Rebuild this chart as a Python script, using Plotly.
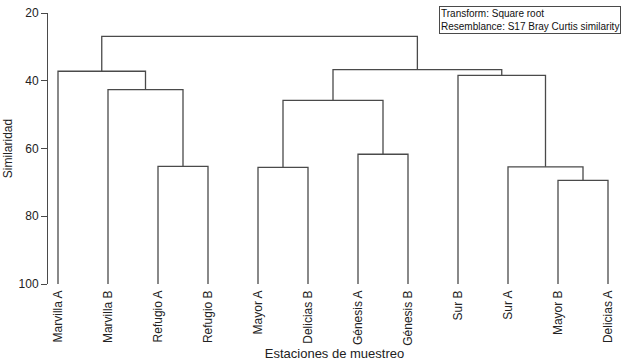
import plotly.graph_objects as go

# ---- data ----
leaves = ["Marvilla A", "Marvilla B", "Refugio A", "Refugio B", "Mayor A", "Delicias B",
          "Génesis A", "Génesis B", "Sur B", "Sur A", "Mayor B", "Delicias A"]

# merges: (child 1, child 2, similarity); children are leaf names or earlier merge ids ("m0", ...)
merge_left = ["Refugio A", "Mayor A", "Génesis A", "Mayor B", "Sur A", "Marvilla B",
              "Marvilla A", "m1", "Sur B", "m7", "m6"]
merge_right = ["Refugio B", "Delicias B", "Génesis B", "Delicias A", "m3", "m0",
               "m5", "m2", "m4", "m8", "m9"]
merge_sim = [65.3, 65.6, 61.7, 69.4, 65.4, 42.6, 37.2, 45.8, 38.4, 36.7, 26.9]

y_ticks = [20, 40, 60, 80, 100]
info_lines = ["Transform: Square root", "Resemblance: S17 Bray Curtis similarity"]

# ---- compute dendrogram segments ----
pos = {name: i for i, name in enumerate(leaves)}
height = {name: 100.0 for name in leaves}
xs, ys = [], []
for k, (a, b, s) in enumerate(zip(merge_left, merge_right, merge_sim)):
    xa, xb = pos[a], pos[b]
    xs += [xa, xa, xb, xb, None]
    ys += [height[a], s, s, height[b], None]
    mid = f"m{k}"
    pos[mid] = (xa + xb) / 2
    height[mid] = s

fig = go.Figure()
fig.add_trace(go.Scatter(x=xs, y=ys, mode="lines",
                         line=dict(color="#4a4a4a", width=1.3),
                         hoverinfo="skip", showlegend=False))

font_family = "Liberation Sans, Arial, sans-serif"
fig.update_layout(
    width=643, height=363,
    margin=dict(l=48, r=22, t=13, b=79, autoexpand=False),
    paper_bgcolor="white", plot_bgcolor="white",
    font=dict(family=font_family, size=12, color="#222"),
    xaxis=dict(range=[-0.2, 11.26], tickmode="array", automargin=False,
               tickvals=list(range(len(leaves))), ticktext=leaves,
               tickangle=-90, showgrid=False, zeroline=False, showline=False,
               ticks="", ticklabelstandoff=3,
               tickfont=dict(size=12, color="#222"),
               title=dict(text="Estaciones de muestreo", font=dict(size=13, color="#222"),
                          standoff=4)),
    yaxis=dict(range=[100, 20], tickmode="array", tickvals=y_ticks, automargin=False,
               showgrid=False, zeroline=False, showline=True, linecolor="#4a4a4a",
               linewidth=1, ticks="outside", ticklen=6, tickcolor="#4a4a4a",
               tickfont=dict(size=12, color="#222"),
               title=dict(text="Similaridad", font=dict(size=12, color="#222"),
                          standoff=3)),
)

fig.add_annotation(
    xref="paper", yref="paper", x=1.0, y=1.026, xanchor="right", yanchor="top",
    text="<br>".join(info_lines), align="left", showarrow=False,
    font=dict(size=10, color="#111", family=font_family),
    bordercolor="#4a4a4a", borderwidth=1, borderpad=1, bgcolor="white",
)

fig.write_html("out.html", config={"displayModeBar": False},
               post_script="document.body.style.margin='0';document.body.style.overflow='hidden';")
